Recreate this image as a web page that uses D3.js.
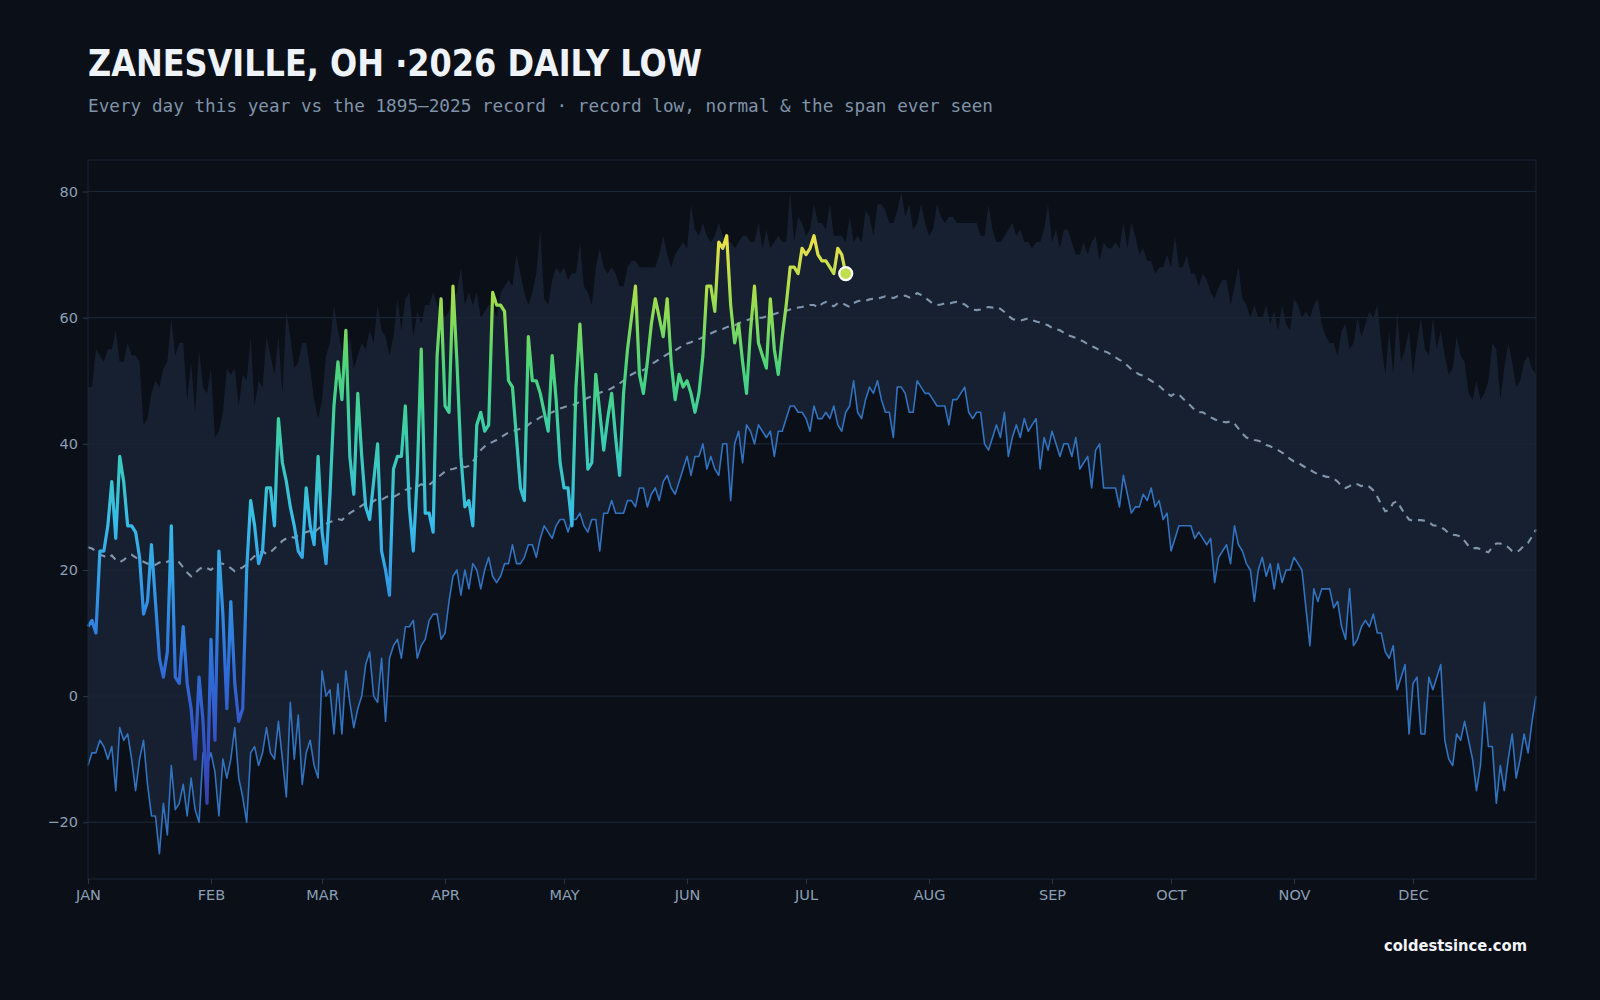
<!DOCTYPE html>
<html>
<head>
<meta charset="utf-8">
<script src="https://cdn.jsdelivr.net/npm/d3@7"></script>
<style>
  html, body { margin: 0; background: #0b0f17; }
  svg { display: block; }
</style>
</head>
<body>
<svg id="chart" width="1600" height="1000"></svg>
<script>
// record low of the daily low, 1895-2025 (one value per day of year, 366 days)
const recordLow = [
  -11,-9,-9,-7,-8,-10,-8,-15,-5,-7, -6,-10,-15,-10,-7,-14,-19,-19,-25,-17,
  -22,-11,-18,-17,-14,-19,-13,-18,-20,-9, -11,-9,-12,-19,-10,-13,-10,-5,-13,-16,
  -20,-9,-8,-11,-9,-5,-9,-10,-4,-10, -16,-1,-10,-3,-14,-9,-7,-11,-13,4,
  0,1,-6,2,-6,4,-1,-5,-2,0, 5,7,0,-1,6,-4,6,8,9,6,
  11,11,12,6,8,9,12,13,13,9, 10,15,19,20,16,20,17,21,20,17,
  20,22,19,18,19,21,21,24,21,21, 22,24,24,22,25,27,26,25,27,28,
  28,26,28,28,29,27,26,28,28,23, 29,29,31,29,29,29,31,31,30,33,
  33,30,32,33,31,34,35,33,32,34, 36,38,35,38,38,40,36,38,36,35,
  40,40,31,40,42,37,43,42,40,43, 42,41,42,38,42,42,44,46,46,45,
  45,44,42,46,44,44,45,44,46,43, 42,45,46,50,45,44,47,49,48,50,
  47,45,45,41,49,49,48,45,45,50, 49,48,48,47,46,46,46,43,47,47,
  48,49,45,44,45,45,40,39,41,43, 41,45,38,41,43,41,44,42,43,44,
  36,41,39,42,40,38,40,40,38,41, 36,37,38,33,39,40,33,33,33,33,
  30,35,32,29,30,30,32,31,33,30, 31,28,29,23,25,27,27,27,27,25,
  26,25,24,25,18,22,23,24,21,27, 24,23,21,20,15,20,22,19,21,17,
  21,18,20,20,22,21,20,14,8,17, 15,17,17,17,14,15,11,9,17,8,
  9,11,12,11,13,10,10,7,6,8, 1,3,5,-6,2,3,-6,-6,3,1,
  3,5,-7,-10,-11,-6,-7,-4,-7,-10, -15,-11,-1,-8,-8,-17,-11,-15,-10,-6,
  -13,-10,-6,-9,-4,0
];

// warmest daily low ever seen (top of the span)
const recordHigh = [
  49,49,55,54,53,55,55,58,53,53, 56,54,54,53,43,44,48,50,49,52,
  53,60,54,56,56,47,53,45,55,49, 48,52,41,42,45,52,51,52,46,51,
  50,57,46,50,49,57,54,51,57,48, 61,57,52,53,56,56,52,47,44,47,
  54,56,62,58,55,54,57,52,54,56, 55,58,56,62,58,57,54,57,63,58,
  63,64,57,61,59,62,62,64,62,61, 60,61,63,64,68,62,64,62,64,60,
  61,62,62,60,64,65,66,65,70,67, 64,62,64,67,74,63,62,66,68,67,
  68,66,67,67,72,65,64,62,68,71, 68,67,68,67,65,65,68,69,69,68,
  68,68,68,68,70,73,70,68,70,71, 72,71,78,74,73,75,73,72,73,75,
  73,72,72,71,72,73,73,72,72,75, 71,74,71,72,73,72,72,80,72,76,
  75,73,74,78,75,75,74,78,73,73, 73,72,76,72,73,72,77,76,73,78,
  78,77,75,75,77,80,76,78,74,75, 78,75,73,74,78,76,75,76,76,75,
  75,75,75,75,75,73,73,78,74,72, 72,73,74,75,73,74,72,72,71,72,
  72,74,78,72,74,71,74,74,72,70, 70,72,70,72,73,69,72,71,71,72,
  71,75,71,75,73,70,71,69,69,67, 68,68,70,68,73,68,68,70,67,67,
  65,67,66,64,63,65,66,66,62,65, 68,63,62,60,62,60,60,62,59,61,
  58,62,59,58,63,62,60,61,60,62, 63,59,57,56,56,54,58,59,55,56,
  60,57,59,61,60,62,56,51,58,51, 61,53,55,58,51,56,60,55,54,60,
  55,58,54,51,52,57,54,53,48,47, 50,47,48,50,56,55,47,52,56,53,
  49,50,53,54,52,51
];

// normal daily low
const normalLow = [
  23.6,23.4,23.0,22.4,22.2,21.9,22.3,21.6,21.2,21.6, 22.1,22.4,22.0,21.6,21.3,21.0,21.1,20.8,21.2,21.0,
  21.3,21.6,21.4,21.2,20.4,19.6,19.0,19.5,20.1,20.5, 20.3,20.0,20.6,21.1,21.0,20.7,20.3,19.8,20.1,20.4,
  20.9,21.6,22.2,22.6,23.0,22.5,22.8,23.4,24.0,24.6, 25.0,25.3,25.1,25.5,25.9,26.0,26.2,26.0,26.5,27.0,
  27.3,27.6,27.8,28.1,27.9,28.5,29.0,29.4,29.8,30.2, 30.6,30.4,30.9,31.3,31.1,31.5,31.8,31.6,31.9,32.3,
  32.7,32.9,33.0,33.2,33.6,33.4,33.5,34.0,34.6,35.1, 35.6,35.9,36.0,36.2,36.5,36.3,36.5,37.2,38.1,39.0,
  39.6,40.0,40.3,40.6,41.0,41.4,41.8,42.0,42.2,42.4, 42.6,43.0,43.5,43.8,44.2,44.5,44.8,45.0,45.3,45.6,
  45.8,46.0,46.1,46.3,46.7,47.0,47.3,47.5,47.8,48.1, 48.3,48.5,48.8,49.2,49.6,50.0,50.5,51.0,51.3,51.5,
  51.7,52.1,52.6,53.0,53.4,53.8,54.2,54.5,54.8,55.2, 55.6,55.9,56.1,56.4,56.6,56.9,57.2,57.5,57.8,58.0,
  58.2,58.5,58.7,58.8,59.1,59.4,59.6,59.8,59.9,60.0, 60.0,60.2,60.4,60.6,60.8,61.0,61.1,61.3,61.4,61.6,
  61.7,61.9,62.0,62.0,61.6,62.2,62.5,62.1,61.8,62.3, 62.4,62.0,61.7,62.3,62.6,62.8,62.7,62.9,63.0,63.0,
  63.2,63.4,63.3,63.1,63.4,63.3,63.5,63.2,63.4,63.9, 63.6,63.2,62.7,62.2,62.0,62.1,62.3,62.2,62.4,62.5,
  62.3,62.1,61.6,61.3,61.2,61.3,61.5,61.7,61.6,61.7, 61.4,60.9,60.3,59.8,59.6,59.5,59.7,59.9,59.6,59.4,
  59.2,59.0,58.8,58.4,58.2,58.0,57.6,57.2,57.0,56.8, 56.5,56.2,55.8,55.5,55.2,54.8,54.7,54.5,54.1,53.7,
  53.3,53.0,52.4,51.8,51.4,51.0,50.8,50.4,50.0,49.6, 49.2,48.6,48.0,47.6,48.0,47.8,47.2,46.6,46.0,45.4,
  45.0,45.0,44.6,44.2,43.9,43.6,43.5,43.4,43.6,43.2, 42.4,41.6,41.0,40.8,40.6,40.5,40.2,39.8,39.6,39.3,
  39.0,38.6,38.2,37.6,37.2,37.0,36.6,36.2,35.9,35.5, 35.2,35.0,34.8,34.7,34.5,34.0,33.3,33.0,33.3,33.7,
  33.6,33.3,33.5,33.2,32.6,31.6,30.4,29.3,29.5,30.6, 30.9,29.8,28.8,28.0,27.8,27.9,27.9,27.8,27.6,27.1,
  27.0,26.8,26.4,25.8,25.6,25.5,25.3,24.6,23.8,23.4, 23.5,23.3,23.0,22.8,23.6,24.2,24.2,24.0,23.6,23.0,
  22.8,23.2,23.9,24.3,25.3,26.4
];

// 2026 daily lows so far (Jan 1 onwards)
const lows2026 = [
  11,12,10,23,23,27,34,25,38,34, 27,27,26,22,13,15,24,15,6,3,
  7,27,3,2,11,2,-2,-10,3,-4, -17,9,-7,23,13,-2,15,2,-4,-2,
  20,31,27,21,23,33,33,27,44,37, 34,30,27,23,22,33,27,24,38,26,
  21,32,46,53,47,58,38,32,48,38, 30,28,34,40,23,20,16,36,38,38,
  46,30,23,35,55,29,29,26,54,63, 46,45,65,53,38,30,31,27,43,45,
  42,43,64,62,62,61,50,49,41,33, 31,57,50,50,48,45,42,54,47,37,
  33,33,27,49,59,48,36,37,51,45, 39,44,48,41,35,48,55,60,65,51,
  48,53,59,63,60,57,63,53,47,51, 49,50,48,45,48,54,65,65,61,72,
  71,73,62,56,59,53,48,58,65,56, 54,52,63,55,51,57,62,68,68,67,
  71,70,71,73,70,69,69,68,67,71, 70,67
];

const monthLabels = ["JAN","FEB","MAR","APR","MAY","JUN","JUL","AUG","SEP","OCT","NOV","DEC"];
const yTicks = [-20, 0, 20, 40, 60, 80];
const tempStops = [-20, -8, 5, 15, 28, 42, 52, 62, 72];
const tempColors = ["#3a3ca6","#3550c4","#2f6fd8","#3191e4","#38bde8","#3ccfa8","#4cd47a","#97dc50","#e8e04a"];

const svg = d3.select("#chart");
const m = { left: 88, right: 1536, top: 160, bottom: 879 };
const start = new Date(2026, 0, 1);
const end = new Date(2027, 0, 1);
const dayDate = i => d3.timeDay.offset(start, i);

const x = d3.scaleTime().domain([start, end]).range([m.left, m.right]);
const y = d3.scaleLinear().domain([-29, 85]).range([m.bottom, m.top]);
const color = d3.scaleLinear().domain(tempStops).range(tempColors).clamp(true);

svg.append("rect").attr("width", 1600).attr("height", 1000).attr("fill", "#0b0f17");

// title block
svg.append("text")
  .attr("x", 88).attr("y", 76)
  .attr("font-family", "'DejaVu Sans', sans-serif")
  .attr("font-weight", 700).attr("font-size", 38)
  .attr("fill", "#eef3fa")
  .attr("textLength", 614).attr("lengthAdjust", "spacingAndGlyphs")
  .text("ZANESVILLE, OH \u00b72026 DAILY LOW");

svg.append("text")
  .attr("x", 88).attr("y", 112)
  .attr("font-family", "'DejaVu Sans Mono', monospace")
  .attr("font-size", 17.7)
  .attr("fill", "#7f93a9")
  .attr("textLength", 905).attr("lengthAdjust", "spacingAndGlyphs")
  .text("Every day this year vs the 1895\u20132025 record \u00b7 record low, normal & the span ever seen");

// grid
svg.append("g")
  .selectAll("line")
  .data(yTicks)
  .join("line")
  .attr("x1", m.left).attr("x2", m.right)
  .attr("y1", d => y(d)).attr("y2", d => y(d))
  .attr("stroke", "#1a2433").attr("stroke-width", 1);

// span ever seen
const band = d3.area()
  .x((d, i) => x(dayDate(i)))
  .y0((d, i) => y(recordLow[i]))
  .y1(d => y(d));

svg.append("path")
  .datum(recordHigh)
  .attr("d", band)
  .attr("fill", "#162030");

// grid again, faint, on top of the band
svg.append("g")
  .selectAll("line")
  .data(yTicks)
  .join("line")
  .attr("x1", m.left).attr("x2", m.right)
  .attr("y1", d => y(d)).attr("y2", d => y(d))
  .attr("stroke", "#1f2a3b").attr("stroke-opacity", 0.55);

const line = d3.line().x((d, i) => x(dayDate(i))).y(d => y(d));

svg.append("path")
  .datum(recordLow)
  .attr("d", line)
  .attr("fill", "none")
  .attr("stroke", "#3273bf")
  .attr("stroke-width", 1.6)
  .attr("stroke-linejoin", "round");

svg.append("path")
  .datum(normalLow)
  .attr("d", line)
  .attr("fill", "none")
  .attr("stroke", "#8195ac")
  .attr("stroke-width", 2.1)
  .attr("stroke-dasharray", "7,6");

// temperature gradient for this year's line
const grad = svg.append("defs").append("linearGradient")
  .attr("id", "tempGrad")
  .attr("gradientUnits", "userSpaceOnUse")
  .attr("x1", 0).attr("x2", 0)
  .attr("y1", y(-29)).attr("y2", y(85));
const [lo, hi] = y.domain();
grad.selectAll("stop")
  .data(tempStops)
  .join("stop")
  .attr("offset", d => (d - lo) / (hi - lo))
  .attr("stop-color", (d, i) => tempColors[i]);

svg.append("path")
  .datum(lows2026)
  .attr("d", line)
  .attr("fill", "none")
  .attr("stroke", "url(#tempGrad)")
  .attr("stroke-width", 3.2)
  .attr("stroke-linejoin", "round");

const last = lows2026.length - 1;
svg.append("circle")
  .attr("cx", x(dayDate(last)))
  .attr("cy", y(lows2026[last]))
  .attr("r", 6.5)
  .attr("fill", color(lows2026[last]))
  .attr("stroke", "#ffffff")
  .attr("stroke-width", 2.2);

// frame
svg.append("rect")
  .attr("x", m.left).attr("y", m.top)
  .attr("width", m.right - m.left).attr("height", m.bottom - m.top)
  .attr("fill", "none")
  .attr("stroke", "#1c2738");

// axes
const yAxis = svg.append("g")
  .attr("transform", `translate(${m.left},0)`)
  .call(d3.axisLeft(y).tickValues(yTicks).tickSize(5).tickPadding(5));

const months = d3.timeMonth.range(start, end);
const xAxis = svg.append("g")
  .attr("transform", `translate(0,${m.bottom})`)
  .call(d3.axisBottom(x).tickValues(months).tickFormat((d, i) => monthLabels[i]).tickSize(5).tickPadding(6));

[yAxis, xAxis].forEach(g => {
  g.select(".domain").remove();
  g.selectAll(".tick line").attr("stroke", "#2a3749");
  g.selectAll(".tick text")
    .attr("fill", "#8a9fb5")
    .attr("font-family", "'DejaVu Sans', sans-serif")
    .attr("font-size", 14.5);
});

svg.append("text")
  .attr("x", 1527).attr("y", 951)
  .attr("text-anchor", "end")
  .attr("font-family", "'DejaVu Sans', sans-serif")
  .attr("font-weight", 700).attr("font-size", 16)
  .attr("fill", "#f2f5fa")
  .attr("textLength", 143).attr("lengthAdjust", "spacingAndGlyphs")
  .text("coldestsince.com");
</script>
</body>
</html>
